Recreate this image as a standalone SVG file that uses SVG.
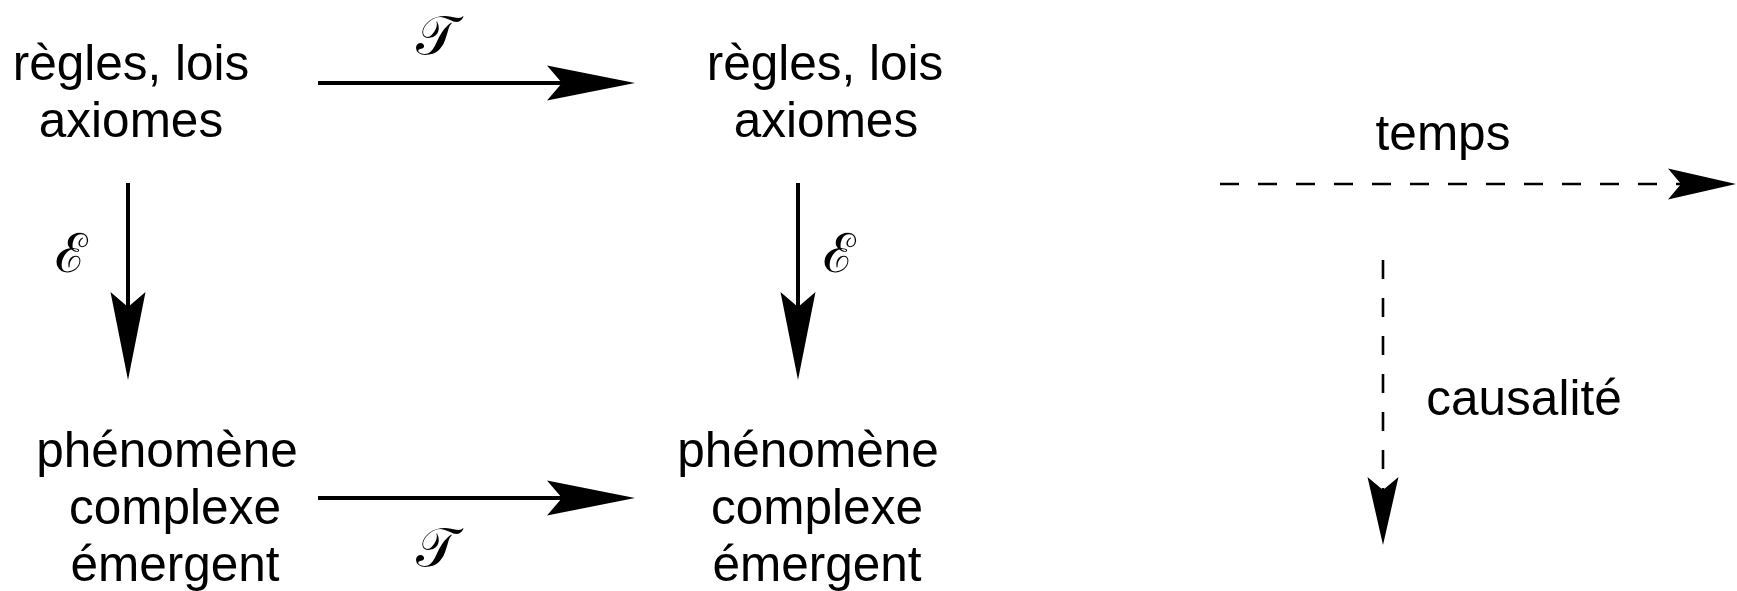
<svg xmlns="http://www.w3.org/2000/svg" width="1737" height="591" viewBox="0 0 1737 591">
  <defs>
    <style>
      .lbl { font-family: "Liberation Sans", Arial, sans-serif; font-size: 49.5px; fill: #000; text-anchor: middle; }
      .cal { font-family: "DejaVu Serif", "Liberation Serif", serif; font-size: 54px; fill: #000; text-anchor: middle; }
      .solid { stroke: #000; stroke-width: 4; fill: none; }
      .dash { stroke: #000; stroke-width: 2.6; fill: none; stroke-dasharray: 19 19; }
    </style>
    <!-- barbed head, reference point sits at the notch -->
    <marker id="head" markerUnits="userSpaceOnUse" markerWidth="90" markerHeight="40" viewBox="0 -18 90 36" refX="15" refY="0" orient="auto" overflow="visible">
      <path d="M0,-17.5 L88,0 L0,17.5 L15,0 Z" fill="#000"/>
    </marker>
    <marker id="headSmall" markerUnits="userSpaceOnUse" markerWidth="72" markerHeight="34" viewBox="0 -16 72 32" refX="13" refY="0" orient="auto" overflow="visible">
      <path d="M0,-15.5 L68,0 L0,15.5 L13,0 Z" fill="#000"/>
    </marker>
  </defs>

  <rect x="0" y="0" width="1737" height="591" fill="#fff"/>

  <g id="rules-left">
    <text class="lbl" x="131" y="80">règles, lois</text>
    <text class="lbl" x="131" y="137">axiomes</text>
  </g>
  <g id="rules-right">
    <text class="lbl" x="825" y="80">règles, lois</text>
    <text class="lbl" x="826" y="137">axiomes</text>
  </g>
  <g id="phenomenon-left">
    <text class="lbl" x="167" y="467">phénomène</text>
    <text class="lbl" x="175" y="524">complexe</text>
    <text class="lbl" x="175" y="581">émergent</text>
  </g>
  <g id="phenomenon-right">
    <text class="lbl" x="808" y="467">phénomène</text>
    <text class="lbl" x="817" y="524">complexe</text>
    <text class="lbl" x="817" y="581">émergent</text>
  </g>
  <g id="time-axis">
    <text class="lbl" x="1443" y="150">temps</text>
  </g>
  <g id="causality-axis">
    <text class="lbl" x="1524" y="415">causalité</text>
  </g>

  <g id="connectors">
    <!-- transformation T, top and bottom rows -->
    <line class="solid" x1="318" y1="83" x2="562" y2="83" marker-end="url(#head)"/>
    <line class="solid" x1="318" y1="498" x2="562" y2="498" marker-end="url(#head)"/>
    <!-- emergence E, both columns -->
    <line class="solid" x1="128" y1="183" x2="128" y2="307" marker-end="url(#head)"/>
    <line class="solid" x1="798" y1="183" x2="798" y2="307" marker-end="url(#head)"/>
    <!-- legend axes -->
    <line class="dash" x1="1220" y1="184" x2="1681" y2="184" marker-end="url(#headSmall)"/>
    <line class="dash" x1="1383" y1="260" x2="1383" y2="490" marker-end="url(#headSmall)"/>
  </g>

  <g id="connector-labels">
    <text class="cal" x="436" y="54">𝒯</text>
    <text class="cal" x="436" y="566">𝒯</text>
    <text class="cal" x="71" y="272">ℰ</text>
    <text class="cal" x="839" y="272">ℰ</text>
  </g>
</svg>
